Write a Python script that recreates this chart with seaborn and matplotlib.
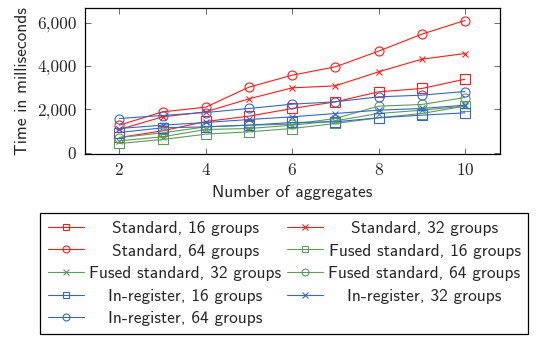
import matplotlib
matplotlib.use("Agg")
import matplotlib.pyplot as plt
import seaborn as sns
import numpy as np
import pandas as pd
from matplotlib.ticker import FuncFormatter

x_vals = [2, 3, 4, 5, 6, 7, 8, 9, 10]

std_16 = [706, 1013, 1443, 1688, 2042, 2349, 2809, 2963, 3392]
std_32 = [1075, 1658, 1888, 2487, 2993, 3085, 3730, 4313, 4574]
std_64 = [1274, 1888, 2103, 3024, 3577, 3960, 4682, 5465, 6094]
fused_16 = [430, 614, 860, 967, 1120, 1351, 1612, 1811, 2150]
fused_32 = [553, 737, 1075, 1120, 1274, 1474, 1811, 1965, 2149]
fused_64 = [700, 921, 1197, 1274, 1320, 1581, 2149, 2226, 2548]
inreg_16 = [936, 1151, 1197, 1274, 1397, 1428, 1612, 1735, 1842]
inreg_32 = [1120, 1274, 1397, 1535, 1658, 1811, 1965, 2042, 2195]
inreg_64 = [1581, 1719, 1857, 2042, 2241, 2349, 2579, 2656, 2824]

labels = ["Standard, 16 groups", "Standard, 32 groups", "Standard, 64 groups",
          "Fused standard, 16 groups", "Fused standard, 32 groups", "Fused standard, 64 groups",
          "In-register, 16 groups", "In-register, 32 groups", "In-register, 64 groups"]
series = [std_16, std_32, std_64, fused_16, fused_32, fused_64, inreg_16, inreg_32, inreg_64]

RED = "#ff1a1a"
GREEN = "#5e9a5e"
BLUE = "#3568c2"
colors = [RED] * 3 + [GREEN] * 3 + [BLUE] * 3
markers = ["s", "x", "o"] * 3

sns.set_theme(style="white")
plt.rcParams["font.family"] = ["cmss10", "DejaVu Sans"]
plt.rcParams["axes.formatter.use_mathtext"] = True

fig = plt.figure(figsize=(5.4, 3.38), dpi=100)
ax = fig.add_axes([0.157, 0.544, 0.768, 0.431])

for lab, vals, c, m in zip(labels, series, colors, markers):
    df = pd.DataFrame({"x": x_vals, "y": vals})
    sns.lineplot(data=df, x="x", y="y", ax=ax, color=c, marker=m,
                 mfc="none", mec=c, mew=0.8, markersize=6.5 if m != "x" else 5,
                 linewidth=0.8, label=lab, legend=False)

ax.set_xlim(1.2, 10.8)
ax.set_ylim(-60, 6650)
ax.set_xticks([2, 4, 6, 8, 10])
ax.set_yticks([0, 2000, 4000, 6000])
ax.yaxis.set_major_formatter(FuncFormatter(lambda v, p: f"{int(v):,}"))
ax.tick_params(direction="in", length=4, width=0.6, color="#555555",
               top=True, right=True, bottom=True, left=True, labelsize=12.5,
               pad=6, labelfontfamily="cmr10")
for s in ax.spines.values():
    s.set_color("black")
    s.set_linewidth(0.9)

ax.set_xlabel("Number of aggregates", fontsize=12.5, labelpad=5)
ax.set_ylabel("Time in milliseconds", fontsize=12.5, labelpad=5)

handles = list(ax.get_lines())
order = [0, 2, 4, 6, 8, 1, 3, 5, 7]
leg = fig.legend(handles=[handles[i] for i in order], labels=[labels[i] for i in order],
                 ncol=2, loc="upper left", bbox_to_anchor=(0.074, 0.37),
                 frameon=True, fancybox=False, framealpha=1, edgecolor="black",
                 fontsize=12.5, handlelength=2.1, handletextpad=0.3,
                 labelspacing=0.43, borderaxespad=0, borderpad=0.45, columnspacing=0.3)
leg.get_frame().set_linewidth(0.9)
for h in leg.legend_handles:
    h.set_markersize(5)

# center the label texts within each legend column
fig.canvas.draw()
renderer = fig.canvas.get_renderer()
texts = leg.get_texts()
cols = [texts[:5], texts[5:]]
for col in cols:
    widths = [t.get_window_extent(renderer).width for t in col]
    wmax = max(widths)
    for t, w in zip(col, widths):
        t.set_x((wmax - w) / 2.0)

fig.savefig("out.png", dpi=100)
